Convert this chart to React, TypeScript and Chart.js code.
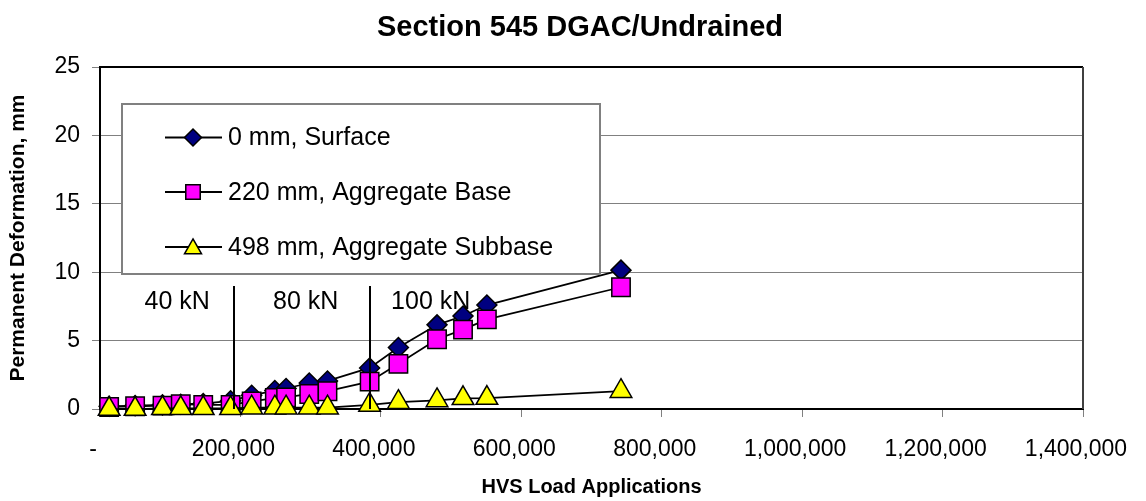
import React, { useEffect, useRef } from 'react';
import { Chart, registerables } from 'chart.js';

Chart.register(...registerables);

const FONT = 'Arial, "Liberation Sans", sans-serif';

const CHART_TITLE = 'Section 545 DGAC/Undrained';
const X_TITLE = 'HVS Load Applications';
const Y_TITLE = 'Permanent Deformation, mm';
const SERIES_LABELS = ['0 mm, Surface', '220 mm, Aggregate Base', '498 mm, Aggregate Subbase'];

// HVS load applications at each measurement
const loadApps = [13000, 50000, 89000, 115000, 147000, 186000, 216000, 249000, 265000, 298000, 324000, 384000, 425000, 480000, 517000, 551000, 742000];
// Permanent deformation (mm)
const surface = [0.2, 0.25, 0.3, 0.35, 0.4, 0.6, 1.0, 1.35, 1.5, 1.9, 2.05, 3.0, 4.5, 6.15, 6.8, 7.6, 10.15];
const aggBase = [0.15, 0.2, 0.25, 0.35, 0.3, 0.3, 0.55, 0.8, 0.85, 1.1, 1.3, 2.0, 3.3, 5.1, 5.8, 6.55, 8.9];
const aggSubbase = [0.0, 0.0, 0.05, 0.05, 0.05, 0.05, 0.1, 0.1, 0.1, 0.1, 0.1, 0.3, 0.5, 0.63, 0.78, 0.8, 1.3];

// Load stages
const stageLabels = ['40 kN', '80 kN', '100 kN'];
const stageLabelX = [110000, 293000, 471000];
const stageLabelY = 7.8;
const stageBreaks = [191000, 384000];
const stageBreakTop = 9;

const X_MIN = 0;
const X_MAX = 1400000;
const X_STEP = 200000;
const Y_MIN = 0;
const Y_MAX = 25;
const Y_STEP = 5;

const SERIES_COLORS = ['#000080', '#FF00FF', '#FFFF00'];
const SERIES_STYLES = ['rectRot', 'rect', 'triangle'];

function drawMarker(ctx: CanvasRenderingContext2D, style: string, x: number, y: number, s: number, fill: string) {
  ctx.save();
  ctx.fillStyle = fill;
  ctx.strokeStyle = '#000';
  ctx.lineWidth = 1.5;
  ctx.beginPath();
  if (style === 'rectRot') {
    ctx.moveTo(x, y - s);
    ctx.lineTo(x + s, y);
    ctx.lineTo(x, y + s);
    ctx.lineTo(x - s, y);
    ctx.closePath();
  } else if (style === 'rect') {
    ctx.rect(x - s * 0.85, y - s * 0.85, s * 1.7, s * 1.7);
  } else {
    ctx.moveTo(x, y - s * 0.95);
    ctx.lineTo(x + s, y + s * 0.8);
    ctx.lineTo(x - s, y + s * 0.8);
    ctx.closePath();
  }
  ctx.fill();
  ctx.stroke();
  ctx.restore();
}

const overlayPlugin = {
  id: 'overlay',
  afterDatasetsDraw(chart: any) {
    const { ctx, chartArea: a, scales } = chart;
    const x = scales.x;
    const y = scales.y;
    ctx.save();
    // plot frame (top and right)
    ctx.lineWidth = 2;
    ctx.strokeStyle = '#000';
    ctx.beginPath();
    ctx.moveTo(a.left, a.top);
    ctx.lineTo(a.right, a.top);
    ctx.stroke();
    ctx.strokeStyle = '#404040';
    ctx.beginPath();
    ctx.moveTo(a.right, a.top);
    ctx.lineTo(a.right, a.bottom);
    ctx.stroke();
    // stage break lines
    ctx.strokeStyle = '#000';
    ctx.lineWidth = 2;
    stageBreaks.forEach((v) => {
      const px = Math.round(x.getPixelForValue(v));
      ctx.beginPath();
      ctx.moveTo(px, y.getPixelForValue(stageBreakTop));
      ctx.lineTo(px, y.getPixelForValue(0));
      ctx.stroke();
    });
    // stage labels
    ctx.font = `25px ${FONT}`;
    ctx.fillStyle = '#000';
    ctx.textAlign = 'center';
    ctx.textBaseline = 'middle';
    stageLabels.forEach((t, i) => {
      ctx.fillText(t, x.getPixelForValue(stageLabelX[i]), y.getPixelForValue(stageLabelY));
    });
    ctx.restore();
  },
  afterDraw(chart: any) {
    const { ctx } = chart;
    ctx.save();
    // chart title
    ctx.font = `bold 29px ${FONT}`;
    ctx.fillStyle = '#000';
    ctx.textAlign = 'center';
    ctx.textBaseline = 'middle';
    ctx.fillText(CHART_TITLE, 580, 28);

    // legend box
    const bx = 122, by = 104, bw = 478, bh = 170;
    ctx.fillStyle = '#fff';
    ctx.fillRect(bx, by, bw, bh);
    ctx.strokeStyle = '#808080';
    ctx.lineWidth = 2;
    ctx.strokeRect(bx, by, bw, bh);

    const rowY = [137.5, 192, 247];
    chart.data.datasets.forEach((ds: any, i: number) => {
      const yy = rowY[i];
      ctx.strokeStyle = '#000';
      ctx.lineWidth = 2;
      ctx.beginPath();
      ctx.moveTo(165, yy);
      ctx.lineTo(222, yy);
      ctx.stroke();
      drawMarker(ctx, SERIES_STYLES[i], 193, yy, 8.5, SERIES_COLORS[i]);
      ctx.fillStyle = '#000';
      ctx.font = `25px ${FONT}`;
      ctx.textAlign = 'left';
      ctx.textBaseline = 'middle';
      ctx.fillText(ds.label, 228, yy + 1);
    });
    ctx.restore();
  },
};

function makeDataset(i: number, values: number[], radius: number, order: number) {
  return {
    label: SERIES_LABELS[i],
    data: loadApps.map((v, k) => ({ x: v, y: values[k] })),
    borderColor: '#000',
    borderWidth: 1.75,
    pointStyle: SERIES_STYLES[i],
    pointRadius: radius,
    pointHoverRadius: radius,
    pointBackgroundColor: SERIES_COLORS[i],
    pointBorderColor: '#000',
    pointBorderWidth: 1.5,
    showLine: true,
    fill: false,
    tension: 0,
    clip: false,
    order,
  };
}

export default function App() {
  const canvasRef = useRef<HTMLCanvasElement | null>(null);

  useEffect(() => {
    const canvas = canvasRef.current;
    if (!canvas) return;
    const chart = new Chart(canvas, {
      type: 'line',
      data: {
        datasets: [
          makeDataset(0, surface, 10, 3),
          makeDataset(1, aggBase, 13, 2),
          makeDataset(2, aggSubbase, 12.5, 1),
        ] as any,
      },
      options: {
        animation: false,
        responsive: false,
        devicePixelRatio: 1,
        layout: { padding: { top: 67, right: 63, bottom: 0, left: 0 } },
        plugins: {
          legend: { display: false },
          title: { display: false },
          tooltip: { enabled: false },
        },
        scales: {
          x: {
            type: 'linear',
            min: X_MIN,
            max: X_MAX,
            afterFit: (s: any) => {
              s.height = 92;
              s.paddingLeft = 0;
              s.paddingRight = 0;
            },
            ticks: {
              stepSize: X_STEP,
              color: '#000',
              font: { family: FONT, size: 23 },
              padding: 19,
              labelOffset: -7,
              maxRotation: 0,
              autoSkip: false,
              callback: (v: any) => (Number(v) === 0 ? '-' : Number(v).toLocaleString('en-US')),
            },
            grid: {
              drawOnChartArea: false,
              drawTicks: true,
              tickLength: 8,
              color: '#808080',
              lineWidth: 1,
            },
            border: { display: true, color: '#000', width: 2 },
            title: {
              display: true,
              text: X_TITLE,
              color: '#000',
              font: { family: FONT, size: 20, weight: 'bold' },
              padding: { top: 0, bottom: 2 },
            },
          },
          y: {
            type: 'linear',
            min: Y_MIN,
            max: Y_MAX,
            afterFit: (s: any) => {
              s.width = 100;
              s.paddingTop = 0;
              s.paddingBottom = 0;
            },
            ticks: {
              stepSize: Y_STEP,
              color: '#000',
              font: { family: FONT, size: 23 },
              padding: 12,
            },
            grid: {
              color: '#808080',
              lineWidth: 1,
              tickLength: 8,
            },
            border: { display: true, color: '#000', width: 2 },
            title: {
              display: true,
              text: Y_TITLE,
              color: '#000',
              font: { family: FONT, size: 21, weight: 'bold' },
              padding: { top: 6, bottom: 0 },
            },
          },
        },
      } as any,
      plugins: [overlayPlugin],
    });
    return () => chart.destroy();
  }, []);

  return (
    <div style={{ position: 'fixed', left: 0, top: 0, width: 1146, height: 501, background: '#fff' }}>
      <canvas ref={canvasRef} width={1146} height={501} style={{ display: 'block' }} />
    </div>
  );
}
